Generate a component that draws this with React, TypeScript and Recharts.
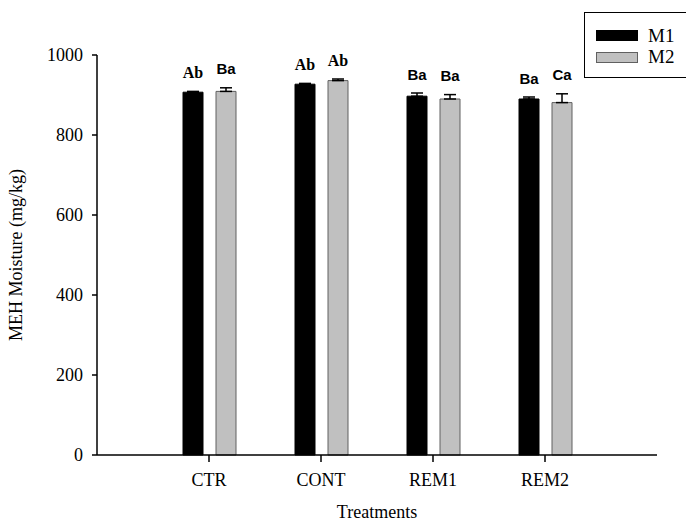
import { BarChart, Bar, XAxis, YAxis, ErrorBar, LabelList } from 'recharts';

const categories = ['CTR', 'CONT', 'REM1', 'REM2'];
const m1Values = [907, 927, 897, 890];
const m1Errors = [2, 2, 8, 5];
const m2Values = [909, 936, 890, 881];
const m2Errors = [9, 4, 11, 22];
const m1Letters = ['Ab', 'Ab', 'Ba', 'Ba'];
const m2Letters = ['Ba', 'Ab', 'Ba', 'Ca'];
const yTicks = [0, 200, 400, 600, 800, 1000];

const data = categories.map((name, i) => ({
  name,
  M1: m1Values[i],
  M1err: [0, m1Errors[i]],
  M1lab: m1Letters[i],
  M2: m2Values[i],
  M2err: [0, m2Errors[i]],
  M2lab: m2Letters[i],
}));

const series = [
  { key: 'M1', fill: '#000', stroke: '#000' },
  { key: 'M2', fill: '#c0c0c0', stroke: '#606060' },
];

const W = 686;
const H = 524;
const MARGIN = { top: 55, right: 29, bottom: 0, left: 0 };
const X_AXIS_H = 69;
const PLOT_H = H - MARGIN.top - MARGIN.bottom - X_AXIS_H;
const PX_PER_UNIT = PLOT_H / 1000;

const serif = '"Liberation Serif", "Times New Roman", serif';
const sans = '"Liberation Sans", Arial, sans-serif';

// letters sit a little above the top of each error bar
function makeLetter(errors: number[]) {
  // eslint-disable-next-line @typescript-eslint/no-explicit-any
  return (props: any) => {
    const { x, y, width, value, index } = props;
    const capTop = y - errors[index] * PX_PER_UNIT;
    const isSerif = String(value).startsWith('A');
    return (
      <text
        x={x + width / 2}
        y={capTop - 19}
        textAnchor="middle"
        dominantBaseline="central"
        fontFamily={isSerif ? serif : sans}
        fontWeight="bold"
        fontSize={isSerif ? 16 : 15}
        fill="#000"
      >
        {value}
      </text>
    );
  };
}

function LegendBox() {
  return (
    <div
      style={{
        position: 'absolute',
        left: 584,
        top: 12,
        border: '1px solid #000',
        background: '#fff',
        width: 120,
        height: 66,
        boxSizing: 'border-box',
        paddingTop: 12,
        paddingLeft: 11,
      }}
    >
      {series.map((s) => (
        <div key={s.key} style={{ display: 'flex', alignItems: 'center', height: 21.5 }}>
          <span
            style={{
              display: 'inline-block',
              width: 42,
              height: 11,
              background: s.fill,
              border: `1px solid ${s.stroke}`,
              boxSizing: 'border-box',
            }}
          />
          <span style={{ marginLeft: 10, fontFamily: serif, fontSize: 19, color: '#000' }}>
            {s.key}
          </span>
        </div>
      ))}
    </div>
  );
}

const tickStyle = { fill: '#000', fontSize: 18, fontFamily: serif };

export default function App() {
  return (
    <div
      style={{
        position: 'absolute',
        left: 0,
        top: 0,
        width: W,
        height: H,
        overflow: 'hidden',
        background: '#fff',
      }}
    >
      <BarChart width={W} height={H} data={data} margin={MARGIN} barSize={20} barGap={13}>
        <XAxis
          dataKey="name"
          height={X_AXIS_H}
          padding={{ left: 56, right: 56 }}
          stroke="#000"
          strokeWidth={1.5}
          tickSize={7}
          tickMargin={11}
          tick={tickStyle}
          label={{
            value: 'Treatments',
            position: 'insideBottom',
            offset: 6,
            ...tickStyle,
          }}
        />
        <YAxis
          width={97}
          domain={[0, 1000]}
          ticks={yTicks}
          interval={0}
          stroke="#000"
          strokeWidth={1.5}
          tickSize={5}
          tickMargin={9}
          tick={tickStyle}
          label={{
            value: 'MEH Moisture (mg/kg)',
            angle: -90,
            position: 'insideLeft',
            offset: 16,
            ...tickStyle,
            style: { textAnchor: 'middle' },
          }}
        />
        {series.map((s, k) => (
          <Bar
            key={s.key}
            dataKey={s.key}
            name={s.key}
            fill={s.fill}
            stroke={s.stroke}
            isAnimationActive={false}
          >
            <ErrorBar dataKey={`${s.key}err`} width={6} stroke="#000" strokeWidth={1.5} />
            <LabelList
              dataKey={`${s.key}lab`}
              content={makeLetter(k === 0 ? m1Errors : m2Errors)}
            />
          </Bar>
        ))}
      </BarChart>
      <LegendBox />
    </div>
  );
}
